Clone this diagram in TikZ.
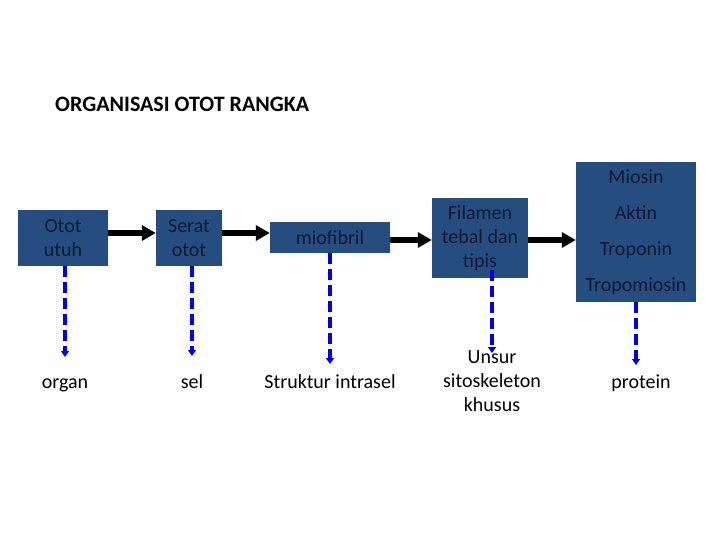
\documentclass[tikz,border=0pt]{standalone}
\usepackage{fontspec}
\setmainfont{Carlito}
\usetikzlibrary{arrows.meta,positioning}
\definecolor{boxblue}{RGB}{37,77,128}
\definecolor{boxtext}{RGB}{15,25,50}
\definecolor{dashblue}{RGB}{0,0,230}

\begin{document}
\begin{tikzpicture}[x=1pt, y=-1pt,
    box/.style={fill=boxblue, text=boxtext, inner sep=0pt, align=center, font=\fontsize{20}{24}\selectfont},
    flow/.style={line width=6.5pt, -{Triangle[length=14pt,width=15pt]}},
    dashflow/.style={dashblue, line width=3.5pt, dash pattern=on 11pt off 5pt,
      -{Triangle[length=6pt,width=8pt]}},
    lbl/.style={align=center, inner sep=0pt, font=\fontsize{20}{24}\selectfont}]
\useasboundingbox (0,0) rectangle (720,540);
\node[font=\bfseries\fontsize{22}{26}\selectfont, anchor=west, inner sep=0pt] (title) at (55,104) {ORGANISASI OTOT RANGKA};
\node[box, minimum width=90pt, minimum height=56pt] (otot) at (63,238) {Otot\\utuh};
\node[box, minimum width=66pt, minimum height=56pt] (serat) at (189,238) {Serat\\otot};
\node[box, minimum width=120pt, minimum height=31pt] (miofibril) at (330,237.5) {miofibril};
\node[box, minimum width=96pt, minimum height=80pt] (filamen) at (480,238) {Filamen\\tebal dan\\tipis};
\node[box, minimum width=120pt, minimum height=140pt, font=\fontsize{20}{36}\selectfont] (miosin) at (636,232) {Miosin\\Aktin\\Troponin\\Tropomiosin};
\node[lbl, anchor=base] (organ) at (65,388) {organ};
\node[lbl, anchor=base] (sel) at (192,388) {sel};
\node[lbl, anchor=base] (intrasel) at (330,388) {Struktur intrasel};
\node[lbl] (unsur) at (492,381) {Unsur\\sitoskeleton\\khusus};
\node[lbl, anchor=base] (protein) at (641,388) {protein};
\draw[flow] ([yshift=5pt]otot.east) -- ([yshift=5pt]serat.west);
\draw[flow] ([yshift=5pt]serat.east) -- ([yshift=4.5pt]miofibril.west);
\draw[flow] ([yshift=-2.5pt]miofibril.east) -- ([yshift=-2pt]filamen.west);
\draw[flow] ([yshift=-2pt]filamen.east) -- ([yshift=-8pt]miosin.west);
\draw[dashflow] ([xshift=2pt]otot.south) -- ([yshift=31pt]organ.base);
\draw[dashflow] ([xshift=3pt]serat.south) -- ([yshift=32pt]sel.base);
\draw[dashflow] (miofibril.south) -- ([yshift=24pt]intrasel.base);
\draw[dashflow] ([xshift=12pt,yshift=8pt]filamen.south) -- ([yshift=28pt]unsur.center);
\draw[dashflow] (miosin.south) -- ([xshift=-5pt,yshift=23pt]protein.base);
\end{tikzpicture}
\end{document}
